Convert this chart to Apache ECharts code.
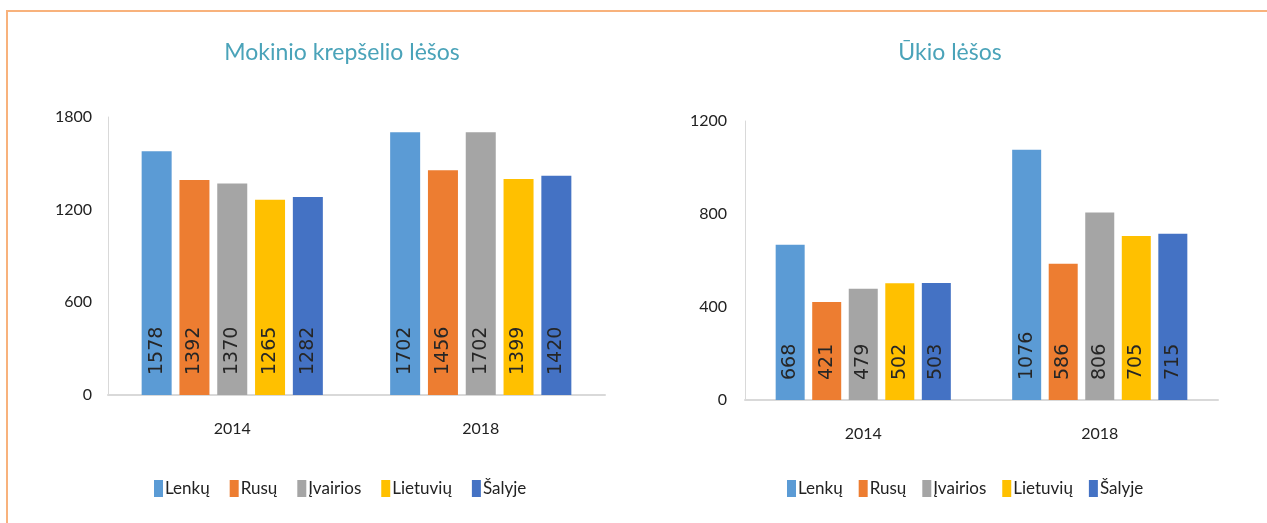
<!DOCTYPE html>
<html>
<head>
<meta charset="utf-8">
<script src="https://cdn.jsdelivr.net/npm/echarts@6/dist/echarts.min.js"></script>
<style>
  html, body { margin: 0; padding: 0; background: #fff; }
  #frame { position: absolute; left: 6px; top: 10px; width: 1261px; height: 513px;
           border-left: 2px solid #F8B27C; border-top: 2px solid #F8B27C; box-sizing: border-box; }
  #main { position: absolute; left: 0; top: 0; width: 1267px; height: 523px; }
</style>
</head>
<body>
<div id="frame"></div>
<div id="main"></div>
<script>
// data
const years = ['2014', '2018'];
const groups = ['Lenkų', 'Rusų', 'Įvairios', 'Lietuvių', 'Šalyje'];
const colors = ['#5B9BD5', '#ED7D31', '#A5A5A5', '#FFC000', '#4472C4'];

// Mokinio krepšelio lėšos, per group: [2014, 2018]
const krepselis = [
  [1578, 1702],
  [1392, 1456],
  [1370, 1702],
  [1265, 1399],
  [1282, 1420]
];
// Ūkio lėšos, per group: [2014, 2018]
const ukis = [
  [668, 1076],
  [421, 586],
  [479, 806],
  [502, 705],
  [503, 715]
];

const FONT = 'Lato';
const chart = echarts.init(document.getElementById('main'));

function makeSeries(values, idx, width) {
  return groups.map(function (name, i) {
    return {
      name: name,
      type: 'bar',
      xAxisIndex: idx,
      yAxisIndex: idx,
      barWidth: width,
      barGap: '26%',
      itemStyle: { color: colors[i] },
      label: {
        show: true,
        position: 'insideBottom',
        rotate: 90,
        align: 'left',
        verticalAlign: 'middle',
        distance: 20,
        color: '#262626',
        fontFamily: 'Verdana, DejaVu Sans, sans-serif',
        fontSize: 19
      },
      data: values[i]
    };
  });
}

const axisLabelStyle = { color: '#222', fontFamily: FONT, fontSize: 16, formatter: function (v) { return String(v); } };
const titleStyle = { color: '#4AA3B9', fontFamily: FONT, fontSize: 23, fontWeight: 'normal' };

const option = {
  animation: false,
  title: [
    { text: 'Mokinio krepšelio lėšos', left: 337, top: 36, textAlign: 'center', textStyle: titleStyle },
    { text: 'Ūkio lėšos', left: 945, top: 36, textAlign: 'center', textStyle: titleStyle }
  ],
  legend: [
    {
      data: groups, left: 149, top: 475, itemWidth: 9, itemHeight: 17, itemGap: 20,
      icon: 'rect', textStyle: { color: '#222', fontFamily: FONT, fontSize: 17, padding: [0, 0, 0, -3] }
    },
    {
      data: groups, left: 782, top: 475, itemWidth: 9, itemHeight: 17, itemGap: 16,
      icon: 'rect', textStyle: { color: '#222', fontFamily: FONT, fontSize: 17, padding: [0, 0, 0, -3] }
    }
  ],
  grid: [
    { left: 108, top: 117, width: 497, height: 278 },
    { left: 745, top: 121, width: 473, height: 279 }
  ],
  xAxis: [0, 1].map(function (i) {
    return {
      type: 'category', gridIndex: i, data: years,
      axisLine: { lineStyle: { color: '#D9D9D9', width: 2 } },
      axisTick: { show: false },
      axisLabel: Object.assign({ margin: 26 }, axisLabelStyle)
    };
  }),
  yAxis: [
    {
      type: 'value', gridIndex: 0, min: 0, max: 1800, interval: 600,
      axisLine: { show: true, lineStyle: { color: '#D9D9D9' } },
      axisTick: { show: false },
      splitLine: { show: false },
      axisLabel: Object.assign({ margin: 16 }, axisLabelStyle)
    },
    {
      type: 'value', gridIndex: 1, min: 0, max: 1200, interval: 400,
      axisLine: { show: true, lineStyle: { color: '#D9D9D9' } },
      axisTick: { show: false },
      splitLine: { show: false },
      axisLabel: Object.assign({ margin: 18 }, axisLabelStyle)
    }
  ],
  series: makeSeries(krepselis, 0, 30).concat(makeSeries(ukis, 1, 29))
};

chart.setOption(option);
</script>
</body>
</html>
